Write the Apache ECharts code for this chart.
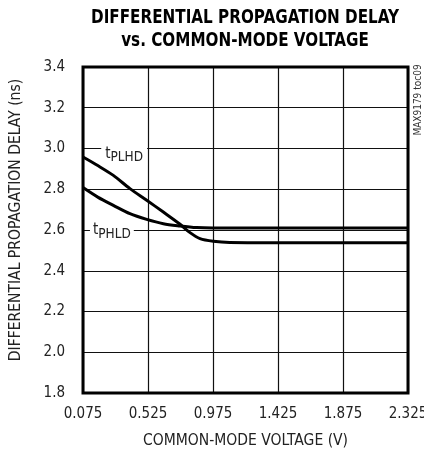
<!DOCTYPE html>
<html>
<head>
<meta charset="utf-8">
<script src="https://cdn.jsdelivr.net/npm/echarts@6/dist/echarts.min.js"></script>
<style>html,body{margin:0;padding:0;background:#fff}#c{width:424px;height:456px}</style>
</head>
<body>
<div id="c"></div>
<script>
// Data (common-mode voltage in V, delay in ns)
var X0 = 0.075;
var xTicks = [0.075, 0.525, 0.975, 1.425, 1.875, 2.325];
var yTicks = [1.8, 2.0, 2.2, 2.4, 2.6, 2.8, 3.0, 3.2, 3.4];
var plhdV = [0.075, 0.18, 0.285, 0.40, 0.516, 0.631, 0.747, 0.816, 0.885, 0.977, 1.09, 1.4, 2.325];
var plhdD = [2.958, 2.915, 2.868, 2.803, 2.746, 2.688, 2.628, 2.587, 2.558, 2.545, 2.539, 2.538, 2.538];
var phldV = [0.075, 0.18, 0.285, 0.40, 0.516, 0.631, 0.747, 0.862, 0.975, 1.4, 2.325];
var phldD = [2.808, 2.76, 2.721, 2.680, 2.652, 2.631, 2.620, 2.612, 2.610, 2.610, 2.610];
var FONT = '"Liberation Sans Narrow", "DejaVu Sans Condensed", Arial, sans-serif';

function pairs(v, d) { return v.map(function (x, i) { return [x - X0, d[i]]; }); }

var chart = echarts.init(document.getElementById('c'), null, {renderer: 'canvas'});
var labelRich = {
  t: {fontFamily: FONT, fontSize: 15, color: '#222', padding: [0, 0, 4, 0]},
  s: {fontFamily: FONT, fontSize: 13.5, color: '#222', padding: [4, 0, 0, 0]}
};
chart.setOption({
  animation: false,
  backgroundColor: '#fff',
  grid: {left: 83, right: 16, top: 67, bottom: 63, show: true, borderColor: '#000', borderWidth: 3,
    backgroundColor: 'transparent', z: 10, containLabel: false, outerBoundsMode: 'none'},
  xAxis: {
    type: 'value', min: 0, max: xTicks[xTicks.length - 1] - X0, interval: 0.45,
    name: 'COMMON-MODE VOLTAGE (V)', nameLocation: 'middle', nameGap: 40,
    nameTextStyle: {fontFamily: FONT, fontSize: 15.5, color: '#222'},
    axisLine: {show: false}, axisTick: {show: false},
    axisLabel: {margin: 14, fontFamily: FONT, fontSize: 15, color: '#222',
      formatter: function (v) { return (v + X0).toFixed(3); }},
    splitLine: {show: true, lineStyle: {color: '#111', width: 1.2}}
  },
  yAxis: {
    type: 'value', min: yTicks[0], max: yTicks[yTicks.length - 1], interval: 0.2,
    name: 'DIFFERENTIAL PROPAGATION DELAY (ns)', nameLocation: 'middle', nameGap: 59,
    nameTextStyle: {fontFamily: FONT, fontSize: 15.5, color: '#222', padding: [0, 0, 0, 20]},
    axisLine: {show: false}, axisTick: {show: false},
    axisLabel: {margin: 18, fontFamily: FONT, fontSize: 15, color: '#222',
      formatter: function (v) { return v.toFixed(1); }},
    splitLine: {show: true, lineStyle: {color: '#111', width: 1.2}}
  },
  series: [
    {
      type: 'line', name: 'tPLHD', data: pairs(plhdV, plhdD), smooth: 0.3,
      symbol: 'none', lineStyle: {color: '#000', width: 3}, z: 5,
      markPoint: {
        symbol: 'rect', symbolSize: 1, itemStyle: {color: 'transparent'},
        label: {show: true, position: 'inside', backgroundColor: '#fff', padding: [0, 4, 0, 4],
          formatter: '{t|t}{s|PLHD}', rich: labelRich},
        data: [{coord: [0.36 - X0, 2.965]}]
      }
    },
    {
      type: 'line', name: 'tPHLD', data: pairs(phldV, phldD), smooth: 0.3,
      symbol: 'none', lineStyle: {color: '#000', width: 3}, z: 5,
      markPoint: {
        symbol: 'rect', symbolSize: 1, itemStyle: {color: 'transparent'},
        label: {show: true, position: 'inside', backgroundColor: '#fff', padding: [0, 3, 0, 3],
          formatter: '{t|t}{s|PHLD}', rich: labelRich},
        data: [{coord: [0.275 - X0, 2.588]}]
      }
    }
  ],
  graphic: [
    {
      type: 'text', x: 245, y: 6, scaleX: 0.845,
      style: {text: 'DIFFERENTIAL PROPAGATION DELAY\nvs. COMMON-MODE VOLTAGE', fontFamily: FONT,
        fontSize: 20, fontWeight: 'bold', lineHeight: 23, fill: '#000', align: 'center', verticalAlign: 'top'}
    },
    {
      type: 'text', x: 413, y: 100, rotation: Math.PI / 2,
      style: {text: 'MAX9179 toc09', fontFamily: FONT, fontSize: 10, fill: '#333', align: 'center', verticalAlign: 'top'}
    }
  ]
});
</script>
</body>
</html>
